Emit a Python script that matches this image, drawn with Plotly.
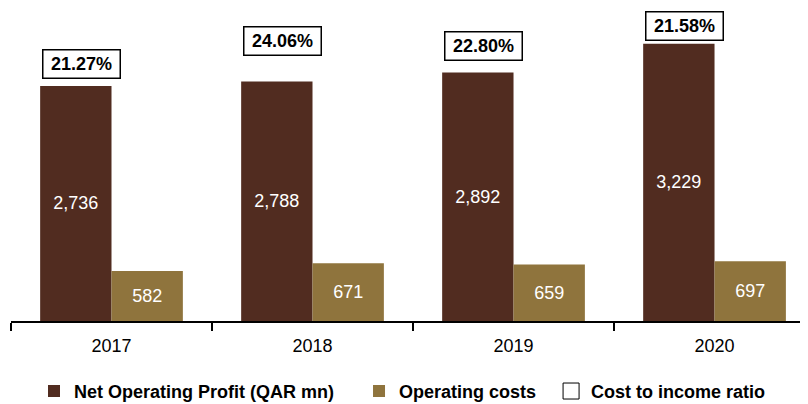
import plotly.graph_objects as go

years = ["2017", "2018", "2019", "2020"]
net_operating_profit = [2736, 2788, 2892, 3229]
operating_costs = [582, 671, 659, 697]
cost_to_income = ["21.27%", "24.06%", "22.80%", "21.58%"]

NOP_COLOR = "#512C20"
OC_COLOR = "#8F743D"
FONT = "Liberation Sans, Arial, sans-serif"
NB = "\u00a0"

fig = go.Figure()
fig.add_trace(go.Bar(
    x=years, y=net_operating_profit, name="Net Operating Profit (QAR mn)" + NB * 4,
    marker=dict(color=NOP_COLOR, line=dict(width=0)),
    text=[f"{v:,}" for v in net_operating_profit], textposition="inside",
    insidetextanchor="middle", textangle=0,
    textfont=dict(color="white", size=18, family=FONT),
))
fig.add_trace(go.Bar(
    x=years, y=operating_costs, name="Operating costs" + NB * 2,
    marker=dict(color=OC_COLOR, line=dict(width=0)),
    text=[f"{v:,}" for v in operating_costs], textposition="inside",
    insidetextanchor="middle", textangle=0,
    textfont=dict(color="white", size=18, family=FONT),
))
fig.add_trace(go.Scatter(
    x=[None], y=[None], name="Cost to income ratio", mode="markers",
    marker=dict(symbol="square", size=26, color="white", line=dict(color="black", width=1)),
))

# ratio boxes positioned above the first bar of each group
box_y = [0.821, 0.896, 0.880, 0.9425]
for i, (yr, txt) in enumerate(zip(years, cost_to_income)):
    fig.add_annotation(
        x=i - 0.15, y=box_y[i], xref="x", yref="paper",
        text=f"<b>{txt}</b>", showarrow=False,
        font=dict(size=18, color="black", family=FONT),
        bgcolor="white", bordercolor="black", borderwidth=1.5,
        width=74, height=25, borderpad=1,
        xanchor="center", yanchor="middle",
    )

fig.update_layout(
    width=800, height=396,
    margin=dict(l=3, r=0, t=0, b=83, autoexpand=False),
    paper_bgcolor="white", plot_bgcolor="white",
    barmode="group", bargap=0.29, bargroupgap=0,
    font=dict(family=FONT, color="black"),
    showlegend=True,
    legend=dict(
        orientation="h", x=0.0325, xanchor="left", y=0.032, yanchor="middle",
        xref="container", yref="container",
        font=dict(size=18, family=FONT, color="black", weight="bold"),
        traceorder="normal", itemwidth=30,
    ),
    xaxis=dict(
        type="category", range=[-0.5, 3.465],
        showline=True, linecolor="black", linewidth=1.5,
        ticks="outside", tickson="boundaries", ticklen=8, tickcolor="black", tickwidth=1.5,
        tickfont=dict(size=18, family=FONT, color="black"), ticklabelstandoff=8,
        showgrid=False, zeroline=False,
    ),
    yaxis=dict(range=[0, 3644], visible=False, showgrid=False, zeroline=False),
)

fig.write_html("out.html")
